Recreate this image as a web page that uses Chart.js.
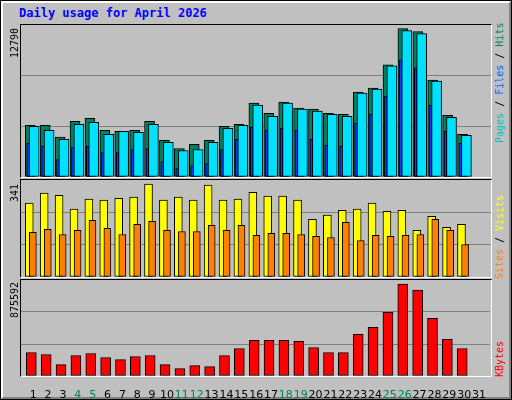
<!DOCTYPE html><html><head><meta charset="utf-8">
<script src="https://cdn.jsdelivr.net/npm/chart.js@4"></script>
<style>
body{margin:0;width:512px;height:400px;overflow:hidden;background:#c0c0c0;font-family:"DejaVu Sans Mono",monospace}
#frame{position:absolute;left:0;top:0;width:510px;height:398px;border:1px solid #000}
#bevel{position:absolute;left:1px;top:1px;width:506px;height:394px;border:2px solid;border-color:#fff #808080 #808080 #fff}
.panel{position:absolute;left:20px;width:470px;border:1px solid;border-color:#000 #fff #fff #000}
canvas{position:absolute}
.rl{position:absolute;transform:rotate(-90deg);transform-origin:center;white-space:nowrap;font-size:10px;text-align:center;height:14px;line-height:14px}
#title{position:absolute;left:19px;top:6px;color:#0000ff;font-weight:bold;font-size:12px}
</style></head><body>
<div id="frame"></div><div id="bevel"></div>
<div id="title">Daily usage for April 2026</div>
<div class="panel" style="top:24px;height:152px"></div>
<div class="panel" style="top:179px;height:97px"></div>
<div class="panel" style="top:279px;height:96px"></div>
<canvas id="c1" style="left:21px;top:25px;width:470px;height:152px"></canvas>
<canvas id="c2" style="left:21px;top:180px;width:470px;height:97px"></canvas>
<canvas id="c3" style="left:21px;top:280px;width:470px;height:118px"></canvas>
<div class="rl" style="left:-15px;top:36px;width:60px;color:#000">12790</div>
<div class="rl" style="left:-15px;top:186px;width:60px;color:#000">341</div>
<div class="rl" style="left:-15px;top:293px;width:60px;color:#000">875592</div>
<div class="rl" style="left:440px;top:76px;width:120px"><span style="color:#00c0c0">Pages</span> / <span style="color:#0060ff">Files</span> / <span style="color:#008060">Hits</span></div>
<div class="rl" style="left:455px;top:230px;width:90px"><span style="color:#ff8000">Sites</span> / <span style="color:#ffff00">Visits</span></div>
<div class="rl" style="left:470px;top:352px;width:60px;color:#ff0000">KBytes</div>
<script>
const days=[1,2,3,4,5,6,7,8,9,10,11,12,13,14,15,16,17,18,19,20,21,22,23,24,25,26,27,28,29,30,31];
const weekend=[4,5,11,12,18,19,25,26];
const hits=[4455,4455,3443,4803,5064,4022,3935,4022,4803,3154,2460,2807,3154,4369,4543,6366,5498,6453,5932,5845,5498,5411,7321,7668,9665,12790,12530,8363,5324,3675];
const files=[4369,4022,3241,4543,4717,3675,3935,3849,4543,2980,2286,2373,2980,4196,4456,6192,5238,6366,5845,5672,5411,5238,7234,7581,9578,12616,12356,8276,5151,3588];
const pages=[2894,2633,1505,2546,2633,2112,2112,2373,2460,1331,723,984,1157,2373,3241,4283,4022,4196,4022,3241,2720,2633,4630,5411,6974,10099,9404,6192,3935,2894];
const sites=[271,308,300,249,286,282,289,293,341,282,293,282,337,282,286,311,297,297,282,212,227,245,249,271,241,245,171,223,182,193];
const visits=[164,175,156,171,208,179,156,193,204,171,167,167,190,171,190,153,160,160,156,149,145,201,134,153,149,153,156,212,171,119];
const kbytes=[223688,204516,108649,194930,214102,175758,156585,185344,194930,108649,70303,99063,89476,194930,262035,338728,338728,338728,329142,271621,223688,223688,396250,463356,607159,875592,818072,549640,348315,262035];
const pts=(arr,off)=>arr.map((v,i)=>({x:days[i]+off,y:v}));
function ds(arr,off,color,w,order){return {data:pts(arr,off),backgroundColor:color,borderColor:'#000',borderWidth:1,barThickness:w,grouped:false,order:order,borderSkipped:false};}
function mk(id,datasets,max,showX){
 const x={type:'linear',min:0.175,max:31.71,display:showX,offset:false,
      grid:{display:false},border:{display:false},
      afterBuildTicks:s=>{s.ticks=days.map(d=>({value:d}));},
      ticks:{autoSkip:false,maxRotation:0,minRotation:0,padding:5,font:{family:'DejaVu Sans',size:11},
        color:c=>weekend.includes(c.tick.value)?'#008060':'#000',callback:v=>String(v)}};
 if(showX) x.afterFit=s=>{s.height=22;};
 return new Chart(document.getElementById(id),{type:'bar',data:{datasets},
 options:{responsive:false,animation:false,devicePixelRatio:1,events:[],
  layout:{padding:0},
  plugins:{legend:{display:false},tooltip:{enabled:false}},
  scales:{
   x:x,
   y:{min:0,max:max,display:true,border:{display:false},
      afterBuildTicks:s=>{s.ticks=[0,max/3,2*max/3,max].map(v=>({value:v}));},
      afterFit:s=>{s.width=0;},
      ticks:{display:false},
      grid:{drawTicks:false,color:c=>(c.index===1||c.index===2)?'#808080':'rgba(0,0,0,0)'}}
  }}});
}
function size(id,w,h){const c=document.getElementById(id);c.width=w;c.height=h;}
size('c1',470,152);size('c2',470,97);size('c3',470,118);
mk('c1',[ds(hits,-0.2,'#008060',10,3),ds(files,0.06,'#00e0ff',10,1),ds(pages,-0.34,'#0040ff',3,2)],13100,false);
mk('c2',[ds(sites,-0.27,'#ffff00',8,2),ds(visits,-0.03,'#ff8000',7,1)],356,false);
mk('c3',[ds(kbytes,-0.13,'#ff0000',10,1)],914000,true);
</script></body></html>
